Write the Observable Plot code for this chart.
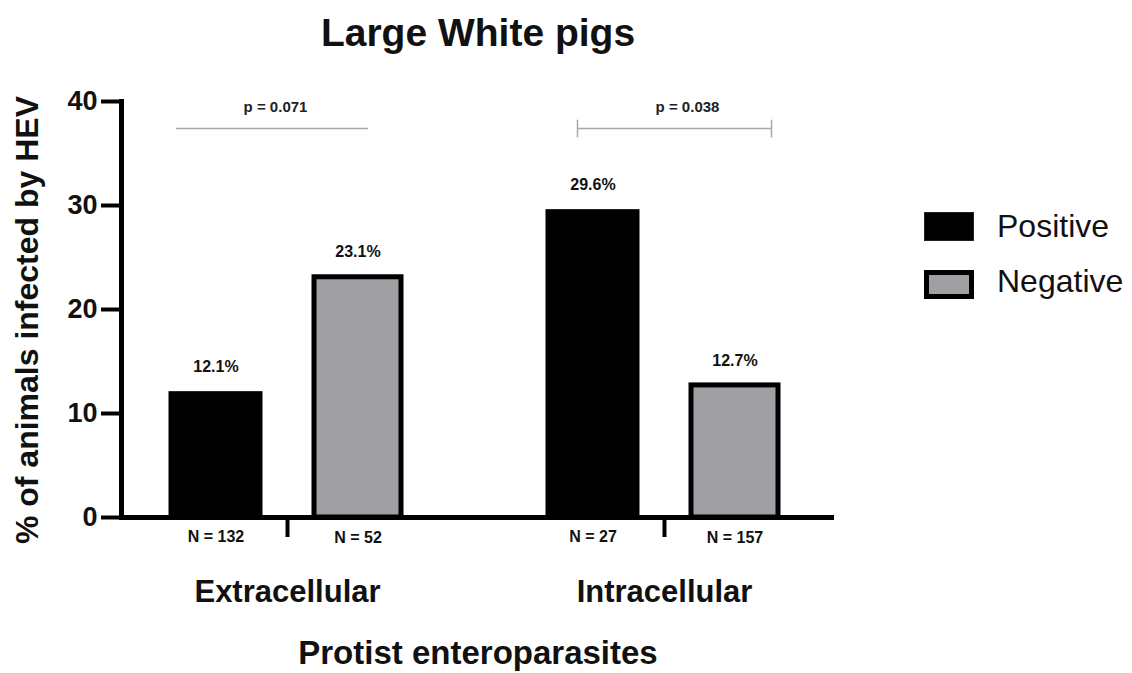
<!DOCTYPE html>
<html><head><meta charset="utf-8">
<script src="https://cdn.jsdelivr.net/npm/d3@7"></script>
<script src="https://cdn.jsdelivr.net/npm/@observablehq/plot@0.6"></script>
<style>
body{margin:0;background:#fff;}
#wrap{position:relative;width:1132px;height:673px;font-family:"Liberation Sans",Arial,Helvetica,sans-serif;color:#111;overflow:hidden}
#wrap svg{position:absolute;left:0;top:0}
.abs{position:absolute;line-height:1;white-space:nowrap}
</style></head><body><div id="wrap"></div>
<script>
// ---- data ----
const groups = ["Extracellular", "Intracellular"];
const statuses = ["Positive", "Negative"];
const positiveValues = [12.1, 29.6];
const negativeValues = [23.1, 12.7];
const positiveN = [132, 27];
const negativeN = [52, 157];
const pLabels = ["p = 0.071", "p = 0.038"];
const yTicks = [0, 10, 20, 30, 40];
const bracketLevel = 37.4;
const chartTitle = "Large White pigs";
const xTitle = "Protist enteroparasites";
const yTitle = "% of animals infected by HEV";
const colors = ["#000000", "#A09FA4"];

const pos = groups.map((g, i) => ({group: g, status: statuses[0], value: positiveValues[i], n: positiveN[i]}));
const neg = groups.map((g, i) => ({group: g, status: statuses[1], value: negativeValues[i], n: negativeN[i]}));
const pRows = groups.map((g, i) => ({group: g, label: pLabels[i]}));
const FONT = '"Liberation Sans", Arial, Helvetica, sans-serif';

const plot = Plot.plot({
  width: 1132, height: 673,
  marginLeft: 121, marginRight: 298, marginTop: 101, marginBottom: 156,
  style: {fontFamily: FONT, color: "#111", background: "transparent", overflow: "visible"},
  x: {domain: groups, range: [98.5, 852.5], padding: 0, round: false},
  y: {domain: [0, 40]},
  color: {domain: statuses, range: colors},
  marks: [
    Plot.barY(pos, {x: "group", y: "value", fill: "status", insetLeft: 70, insetRight: 213}),
    Plot.barY(neg, {x: "group", y: "value", fill: "status", stroke: "#000", strokeWidth: 5, insetLeft: 215.5, insetRight: 74.5}),
    Plot.ruleY([0], {stroke: "#000", strokeWidth: 5}),
    Plot.frame({anchor: "left", stroke: "#000", strokeWidth: 5}),
    Plot.axisY({ticks: yTicks, tickFormat: d => String(d), tickSize: 20, tickPadding: 4, strokeWidth: 4, stroke: "#000", fontSize: 27, fontWeight: "bold", fill: "#111", label: null}),
    Plot.axisX({tickSize: 20, tickPadding: 42, strokeWidth: 4, stroke: "#000", fontSize: 31, fontWeight: "bold", fill: "#111", label: null}),
    // value labels
    Plot.text(pos, {x: "group", y: "value", text: d => d.value.toFixed(1) + "%", dx: -71.5, dy: -25, fontSize: 16, fontWeight: "bold", fill: "#111"}),
    Plot.text(neg, {x: "group", y: "value", text: d => d.value.toFixed(1) + "%", dx: 70.5, dy: -25, fontSize: 16, fontWeight: "bold", fill: "#111"}),
    // N labels
    Plot.text(pos, {x: "group", y: 0, text: d => "N = " + d.n, dx: -71.5, dy: 19, fontSize: 16, fontWeight: "bold", fill: "#111"}),
    Plot.text(neg, {x: "group", y: 0, text: d => "N = " + d.n, dx: 70.5, dy: 20, fontSize: 16, fontWeight: "bold", fill: "#111"}),
    // brackets
    Plot.ruleY(pRows.slice(0, 1), {x1: "group", x2: "group", y: bracketLevel, insetLeft: 77.5, insetRight: 107.5, stroke: "#a8a8a8", strokeWidth: 1.5}),
    Plot.ruleY(pRows.slice(1, 2), {x1: "group", x2: "group", y: bracketLevel, insetLeft: 101.5, insetRight: 81.5, stroke: "#a8a8a8", strokeWidth: 1.5}),
    Plot.ruleX(pRows.slice(1, 2), {x: "group", y1: 36.5, y2: 38.2, dx: -87, stroke: "#a8a8a8", strokeWidth: 1.5}),
    Plot.ruleX(pRows.slice(1, 2), {x: "group", y1: 36.5, y2: 38.2, dx: 107, stroke: "#a8a8a8", strokeWidth: 1.5}),
    Plot.text(pRows.slice(0, 1), {x: "group", y: bracketLevel, text: "label", dx: -12, dy: -21, fontSize: 15, fontWeight: "bold", fill: "#222"}),
    Plot.text(pRows.slice(1, 2), {x: "group", y: bracketLevel, text: "label", dx: 23, dy: -21, fontSize: 15, fontWeight: "bold", fill: "#222"})
  ]
});

const wrap = document.getElementById("wrap");
wrap.appendChild(plot);

function addText(txt, css) {
  const d = document.createElement("div");
  d.className = "abs";
  d.textContent = txt;
  Object.assign(d.style, css);
  wrap.appendChild(d);
  return d;
}
// title
addText(chartTitle, {left: "0px", width: "956px", textAlign: "center", top: "13px", fontSize: "39px", fontWeight: "bold"});
// x title
addText(xTitle, {left: "0px", width: "956px", textAlign: "center", top: "636px", fontSize: "33px", fontWeight: "bold"});
// y title (rotated)
addText(yTitle, {left: (27 - 300) + "px", width: "600px", height: "32px", textAlign: "center", top: (320 - 16) + "px", fontSize: "32px", fontWeight: "bold", transform: "rotate(-90deg)", transformOrigin: "50% 50%"});
// legend
const legendTops = [212, 270];
const textTops = [210, 265];
statuses.forEach((s, i) => {
  const sw = document.createElement("div");
  Object.assign(sw.style, {position: "absolute", left: "924px", top: legendTops[i] + "px", width: "50px", height: "29px", boxSizing: "border-box", background: colors[i], border: i === 1 ? "5px solid #000" : "1px solid #222"});
  wrap.appendChild(sw);
  addText(s, {left: "997px", top: textTops[i] + "px", fontSize: "32px", color: "#111"});
});
</script></body></html>
